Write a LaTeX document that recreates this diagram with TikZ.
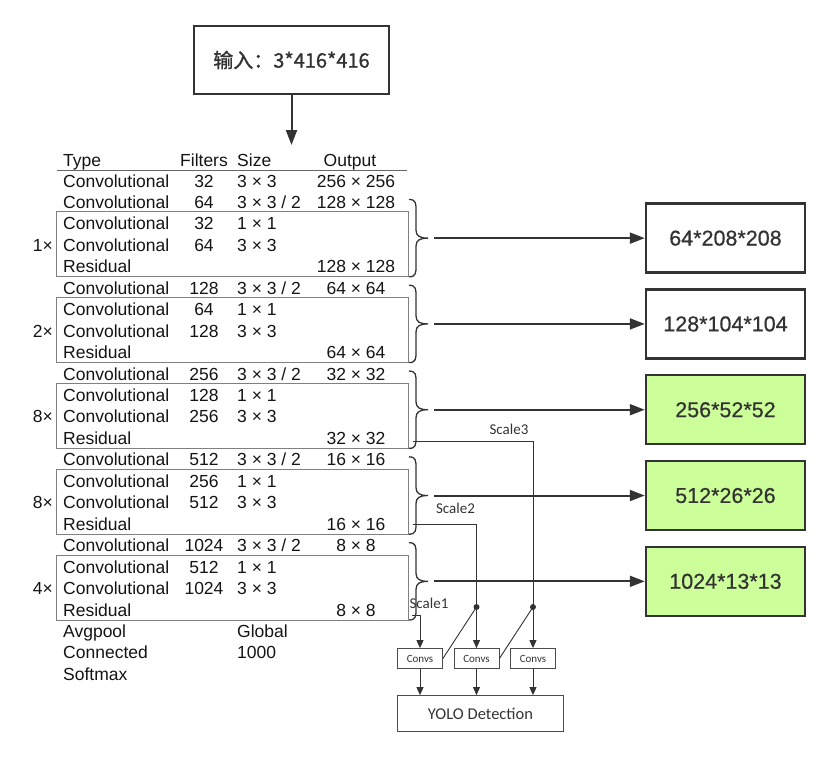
\documentclass[tikz,border=0pt]{standalone}
\usepackage{fontspec}
\setmainfont{Liberation Sans}
\newfontfamily\cjkfont[FakeBold=1.2]{Noto Sans CJK SC}
\newfontfamily\numfont[FakeBold=0.6]{Liberation Sans}
\newfontfamily\carlito{Carlito}
\usetikzlibrary{arrows.meta}
\definecolor{lgreen}{RGB}{204,255,153}
\definecolor{dk}{RGB}{51,51,51}
\tikzset{
  tab/.style={inner sep=0pt, font=\fontsize{17.5}{20}\selectfont, text=black!92},
  grp/.style={draw=black!50, line width=0.9pt},
  brc/.style={draw=dk, line width=1.3pt},
  bigarrow/.style={draw=dk, line width=2pt, -{Triangle[length=15pt,width=11pt]}},
  outbox/.style={draw=dk, line width=2.5pt, minimum width=159pt, minimum height=69pt,
    inner sep=0pt, font=\numfont\fontsize{21.5}{24}\selectfont, text=dk},
  inbox/.style={draw=dk, line width=2.5pt, minimum width=195pt, minimum height=68pt,
    inner sep=0pt, font=\cjkfont\fontsize{20}{24}\selectfont, text=dk},
  thinline/.style={draw=dk, line width=0.9pt},
  thinarrow/.style={draw=dk, line width=0.9pt, -{Triangle[length=8pt,width=7pt]}},
  convbox/.style={draw=black!70, line width=0.8pt, minimum width=45pt, minimum height=20pt,
    inner sep=0pt, font=\carlito\fontsize{11}{12}\selectfont, text=dk},
  yolobox/.style={draw=black!70, line width=0.8pt, minimum width=166pt, minimum height=36pt,
    inner sep=0pt, font=\carlito\fontsize{16.5}{19}\selectfont, text=dk},
  scalelbl/.style={inner sep=0pt, font=\carlito\fontsize{15}{17}\selectfont, text=dk},
  dotnode/.style={circle, fill=dk, inner sep=0pt, minimum size=6pt},
}
\newcommand\tabrow[5]{%
  \pgfmathsetmacro\yb{187+21.45*#1}%
  \node[tab,anchor=base west] (t#1) at (63,\yb) {#2};%
  \node[tab,anchor=base] (f#1) at (204,\yb) {#3};%
  \node[tab,anchor=base west] (s#1) at (237,\yb) {#4};%
  \node[tab,anchor=base] (o#1) at (356,\yb) {#5};%
}
\begin{document}
\begin{tikzpicture}[x=1pt,y=-1pt]
\useasboundingbox (0,0) rectangle (830,758);

% input
\node[inbox] (in) at (291.5,60) {输入：3*416*416};
\coordinate (tabtop) at (291.5,145);
\draw[bigarrow] (in.south) -- (tabtop);

% header
\node[tab,anchor=base west] (hType) at (63,166) {Type};
\node[tab,anchor=base] (hFil) at (204,166) {Filters};
\node[tab,anchor=base west] (hSize) at (237,166) {Size};
\node[tab,anchor=base] (hOut) at (350,166) {Output};
\draw[draw=black!60, line width=1pt] (57,170.5) -- (407,170.5);

% rows
\tabrow{0}{Convolutional}{32}{3 × 3}{256 × 256}
\tabrow{1}{Convolutional}{64}{3 × 3 / 2}{128 × 128}
\tabrow{2}{Convolutional}{32}{1 × 1}{}
\tabrow{3}{Convolutional}{64}{3 × 3}{}
\tabrow{4}{Residual}{}{}{128 × 128}
\tabrow{5}{Convolutional}{128}{3 × 3 / 2}{64 × 64}
\tabrow{6}{Convolutional}{64}{1 × 1}{}
\tabrow{7}{Convolutional}{128}{3 × 3}{}
\tabrow{8}{Residual}{}{}{64 × 64}
\tabrow{9}{Convolutional}{256}{3 × 3 / 2}{32 × 32}
\tabrow{10}{Convolutional}{128}{1 × 1}{}
\tabrow{11}{Convolutional}{256}{3 × 3}{}
\tabrow{12}{Residual}{}{}{32 × 32}
\tabrow{13}{Convolutional}{512}{3 × 3 / 2}{16 × 16}
\tabrow{14}{Convolutional}{256}{1 × 1}{}
\tabrow{15}{Convolutional}{512}{3 × 3}{}
\tabrow{16}{Residual}{}{}{16 × 16}
\tabrow{17}{Convolutional}{1024}{3 × 3 / 2}{8 × 8}
\tabrow{18}{Convolutional}{512}{1 × 1}{}
\tabrow{19}{Convolutional}{1024}{3 × 3}{}
\tabrow{20}{Residual}{}{}{8 × 8}
\tabrow{21}{Avgpool}{}{Global}{}
\tabrow{22}{Connected}{}{1000}{}
\tabrow{23}{Softmax}{}{}{}

% multipliers
\foreach \k/\m in {0/1,1/2,2/8,3/8,4/4}{
  \pgfmathsetmacro\yb{187+21.45*(3+4*\k)}
  \node[tab,anchor=base east] (mul\k) at (53,\yb) {\m×};
}

% group boxes, braces, outputs
\foreach \k/\lab/\fc in {0/64*208*208/white,1/128*104*104/white,2/256*52*52/lgreen,3/512*26*26/lgreen,4/1024*13*13/lgreen}{
  \pgfmathsetmacro\bt{187+21.45*(2+4*\k)-18}
  \pgfmathsetmacro\bb{187+21.45*(4+4*\k)+4}
  \draw[grp] (56,\bt) rectangle (408,\bb);
  \pgfmathsetmacro\t{187+21.45*(1+4*\k)-9}
  \pgfmathsetmacro\m{(\t+\bb)/2}
  \draw[brc] (409,\t) .. controls (416,\t) and (416,\t+4) .. (416,\t+11)
     -- (416,\m-8) .. controls (416,\m-2) and (420,\m) .. (428,\m)
     .. controls (420,\m) and (416,\m+2) .. (416,\m+8)
     -- (416,\bb-11) .. controls (416,\bb-4) and (416,\bb) .. (409,\bb);
  \node[outbox, fill=\fc] (out\k) at (725.5,\m) {\lab};
  \coordinate (b\k) at (434,\m);
  \draw[bigarrow] (b\k) -- (out\k.west);
}

% detection part
\node[convbox] (c1) at (420,658.5) {Convs};
\node[convbox] (c2) at (476.5,658.5) {Convs};
\node[convbox] (c3) at (533,658.5) {Convs};
\node[yolobox] (yolo) at (480.5,713.5) {YOLO Detection};

\coordinate (s3a) at (413,441);
\coordinate (s2a) at (413,524);
\coordinate (s1a) at (412,615);
\node[dotnode] (d2) at (476.5,607) {};
\node[dotnode] (d3) at (533,607) {};

\draw[thinline] (s3a) -| (d3.center);
\draw[thinarrow] (d3.center) -- (c3.north);
\draw[thinline] (s2a) -| (d2.center);
\draw[thinarrow] (d2.center) -- (c2.north);
\draw[thinarrow] (s1a) -| (c1.north);
\draw[thinline] (c1.east) -- (d2.center);
\draw[thinline] (c2.east) -- (d3.center);

\node[scalelbl] (l3) at (509,429) {Scale3};
\node[scalelbl] (l2) at (455.5,508) {Scale2};
\node[scalelbl] (l1) at (429,603) {Scale1};

\draw[thinarrow] (c1.south) -- (c1.south |- yolo.north);
\draw[thinarrow] (c2.south) -- (c2.south |- yolo.north);
\draw[thinarrow] (c3.south) -- (c3.south |- yolo.north);
\end{tikzpicture}
\end{document}
